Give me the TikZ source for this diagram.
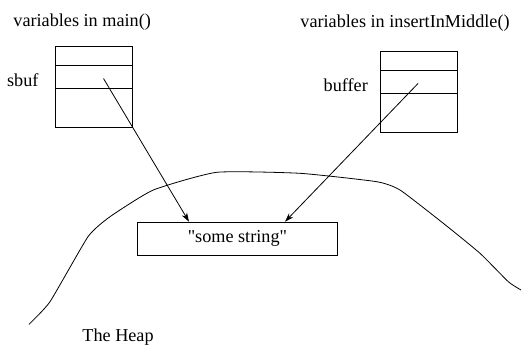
\documentclass[tikz,border=0pt]{standalone}
\usepackage{fontspec}
\setmainfont{Liberation Serif}
\usetikzlibrary{arrows.meta,calc}
\begin{document}
\begin{tikzpicture}[x=1pt,y=-1pt,line width=0.8pt,
  lbl/.style={anchor=base west,inner sep=0pt,font=\fontsize{18.2}{20}\selectfont},
  varbox/.style={draw,minimum width=77pt,minimum height=81pt,inner sep=0pt,anchor=north west},
  ptr/.style={-{Stealth[length=9pt,width=6pt]}}]
\useasboundingbox (0,0) rectangle (521,348);
% labels
\node[lbl] (t1) at (13,26.5) {variables in main()};
\node[lbl] (t2) at (300,27.3) {variables in insertInMiddle()};
\node[lbl] (s1) at (6.7,86) {sbuf};
\node[lbl] (s2) at (323.3,91) {buffer};
\node[lbl] (heap) at (82,341) {The Heap};
% left variable box
\node[varbox] (lbox) at (55.3,45.5) {};
\draw (55.3,65) -- (132.3,65);
\draw (55.3,88.3) -- (132.3,88.3);
% right variable box
\node[varbox,minimum width=76.7pt] (rbox) at (380,50.5) {};
\draw (380,70) -- (456.7,70);
\draw (380,93.5) -- (456.7,93.5);
% string box
\node[draw,minimum width=200.6pt,minimum height=33.3pt,inner sep=0pt,anchor=north west,
  font=\fontsize{18.2}{20}\selectfont] (str) at (136.7,221.7) {\textquotedbl some string\textquotedbl};
% pointers
\coordinate (p1) at (103.5,78.5);
\coordinate (p2) at (418,83.5);
\coordinate (e1) at (189,221.7);
\coordinate (e2) at (285,221.7);
\draw[ptr] (p1) -- (e1);
\draw[ptr] (p2) -- (e2);
% heap boundary
\draw plot[smooth,tension=0.3] coordinates {(29,324.3) (50,301.7) (88,236.7) (110,216.7) (153.3,190) (216.7,172.3) (300,173.3) (376.7,181.7) (400,190) (443.3,223.3) (480,253.3) (508.3,281.7) (521,290)};
\end{tikzpicture}
\end{document}
